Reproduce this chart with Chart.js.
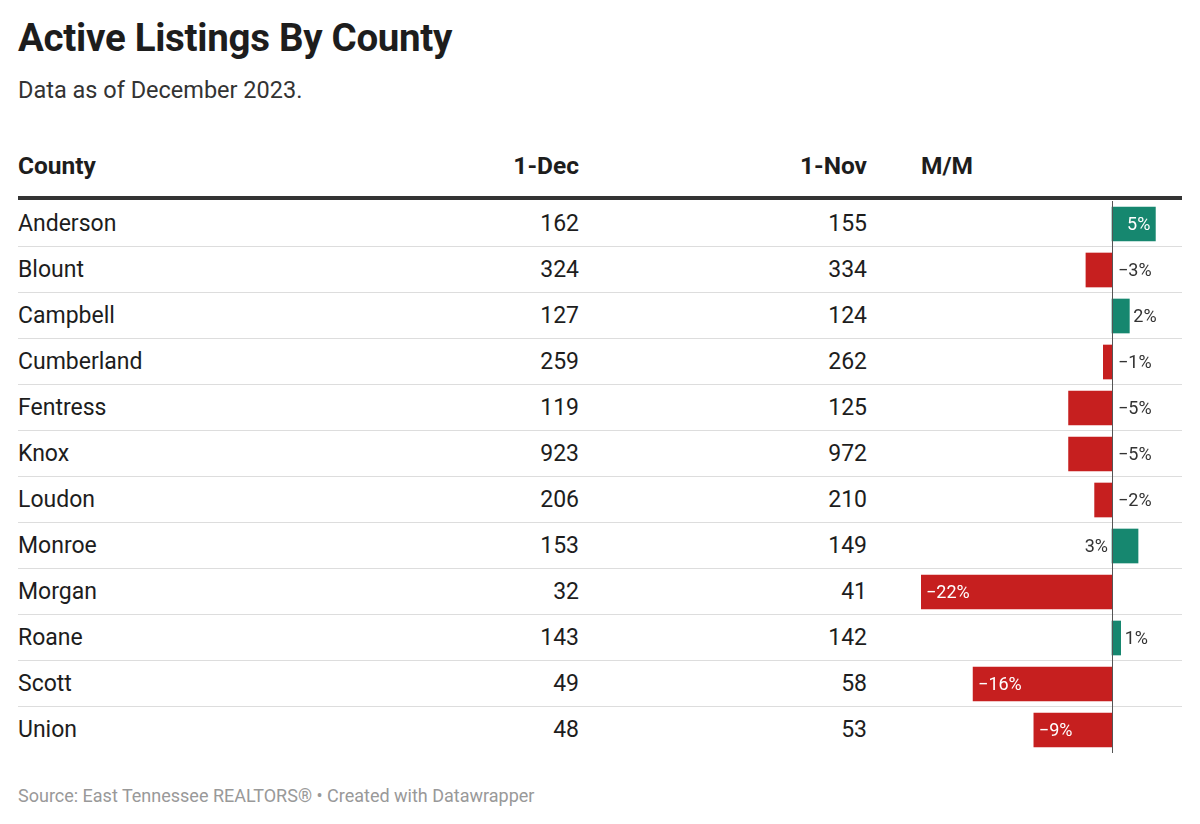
<!DOCTYPE html>
<html><head><meta charset="utf-8">
<script src="https://cdn.jsdelivr.net/npm/chart.js@4/dist/chart.umd.min.js"></script>
<style>
  body { margin:0; background:#fff; font-family: Roboto, sans-serif; color:#1d1d1d; }
  #wrap { position:relative; width:1200px; height:824px; }
  h1 { position:absolute; left:18px; top:15px; margin:0; font-size:38.5px; font-weight:700; letter-spacing:-0.3px; }
  .sub { position:absolute; left:18px; top:76px; font-size:23.5px; color:#333; }
  .hdr { position:absolute; top:151px; font-size:24.5px; font-weight:700; }
  .thick { position:absolute; left:18px; width:1164px; top:196px; height:4px; background:#333; }
  .row { position:absolute; left:18px; width:1164px; height:46px; border-bottom:1px solid #ddd; box-sizing:border-box; font-size:23px; }
  .row span { position:absolute; top:9px; }
  .src { position:absolute; left:18px; top:785px; font-size:18px; color:#999; }
  #c { position:absolute; left:921px; top:201px; }
</style></head>
<body><div id="wrap">
<h1>Active Listings By County</h1>
<div class="sub">Data as of December 2023.</div>
<div class="hdr" style="left:18px">County</div>
<div class="hdr" style="right:621px">1-Dec</div>
<div class="hdr" style="right:333px">1-Nov</div>
<div class="hdr" style="left:921px">M/M</div>
<div class="thick"></div>
<div id="rows"></div>
<canvas id="c"></canvas>
<div class="src">Source: East Tennessee REALTORS® • Created with Datawrapper</div>
</div>
<script>
const counties = ['Anderson','Blount','Campbell','Cumberland','Fentress','Knox','Loudon','Monroe','Morgan','Roane','Scott','Union'];
const dec1 = [162, 324, 127, 259, 119, 923, 206, 153, 32, 143, 49, 48];
const nov1 = [155, 334, 124, 262, 125, 972, 210, 149, 41, 142, 58, 53];
const mm = [5, -3, 2, -1, -5, -5, -2, 3, -22, 1, -16, -9];

const GREEN = '#16876f', RED = '#c61f1f';
const rows = document.getElementById('rows');
counties.forEach((c, i) => {
  const d = document.createElement('div');
  d.className = 'row';
  d.style.top = (201 + i * 46) + 'px';
  if (i === counties.length - 1) d.style.borderBottom = 'none';
  d.innerHTML = `<span style="left:0">${c}</span><span style="right:603px">${dec1[i]}</span><span style="right:315px">${nov1[i]}</span>`;
  rows.appendChild(d);
});

const canvas = document.getElementById('c');
const W = 260, H = 552;
canvas.width = W; canvas.height = H;
canvas.style.width = W + 'px'; canvas.style.height = H + 'px';

const fmt = v => (v < 0 ? '\u2212' + Math.abs(v) : v) + '%';

const overlay = {
  id: 'overlay',
  afterDatasetsDraw(chart) {
    const ctx = chart.ctx, xs = chart.scales.x, meta = chart.getDatasetMeta(0);
    const x0 = xs.getPixelForValue(0);
    ctx.save();
    ctx.font = '18px Roboto, sans-serif';
    ctx.textBaseline = 'middle';
    const edge = 1160 - 921;
    meta.data.forEach((bar, i) => {
      const v = mm[i], t = fmt(v), w = ctx.measureText(t).width;
      const len = Math.abs(bar.x - x0);
      const y = bar.y + 1;
      if (len >= w + 20) {
        ctx.fillStyle = '#fff';
        if (v < 0) { ctx.textAlign = 'left'; ctx.fillText(t, bar.x + 5, y); }
        else { ctx.textAlign = 'right'; ctx.fillText(t, bar.x - 5, y); }
      } else {
        ctx.fillStyle = '#333';
        if (v < 0) { ctx.textAlign = 'left'; ctx.fillText(t, x0 + 6, y); }
        else if (bar.x + 4 + w <= edge) { ctx.textAlign = 'left'; ctx.fillText(t, bar.x + 4, y); }
        else if (v === 2) { ctx.textAlign = 'left'; ctx.fillText('2..', bar.x + 5, y); }
        else { ctx.textAlign = 'right'; ctx.fillText(t, x0 - 4, y); }
      }
    });
    ctx.strokeStyle = '#555'; ctx.lineWidth = 1;
    ctx.beginPath(); ctx.moveTo(Math.round(x0) + 0.5, 0); ctx.lineTo(Math.round(x0) + 0.5, H); ctx.stroke();
    ctx.restore();
  }
};

new Chart(canvas, {
  type: 'bar',
  data: { labels: counties, datasets: [{
    data: mm,
    backgroundColor: mm.map(v => v < 0 ? RED : GREEN),
    barThickness: 34, borderWidth: 0
  }]},
  options: {
    indexAxis: 'y', responsive: false, animation: false,
    layout: { padding: 0 },
    plugins: { legend: { display: false }, tooltip: { enabled: false } },
    scales: {
      x: { display: false, min: -22, max: 7.95 },
      y: { display: false }
    }
  },
  plugins: [overlay]
});
</script>
</body></html>
